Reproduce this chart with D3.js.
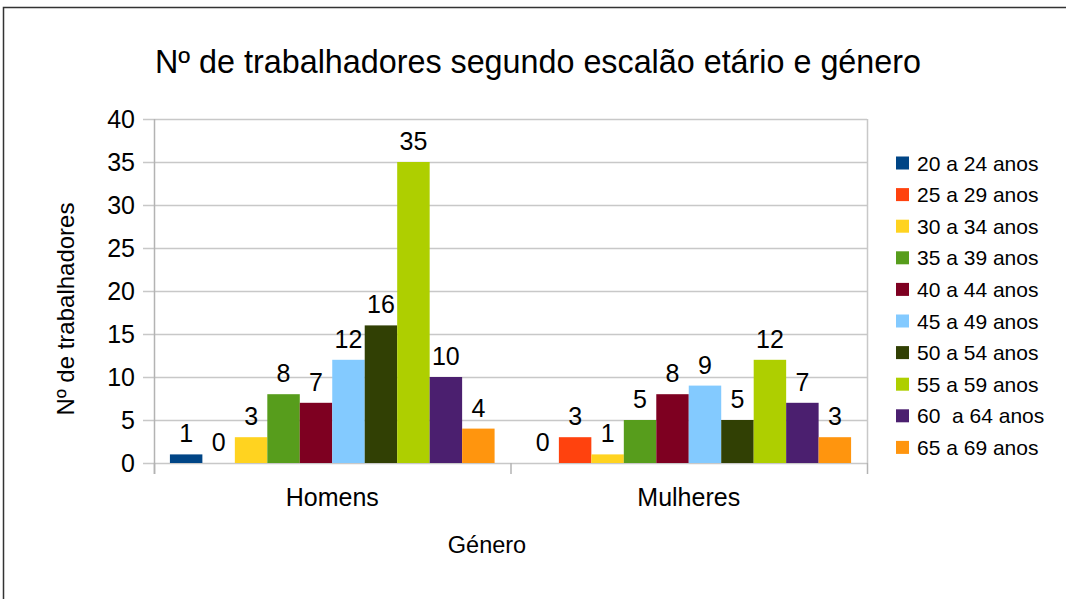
<!DOCTYPE html>
<html>
<head>
<meta charset="utf-8">
<script src="https://cdnjs.cloudflare.com/ajax/libs/d3/7.8.5/d3.min.js"></script>
<style>
  body { margin: 0; background: #fff; }
  text { font-family: "Liberation Sans", Arial, sans-serif; fill: #000; white-space: pre; }
</style>
</head>
<body>
<div id="chart"></div>
<script>
// data
var genders = ["Homens", "Mulheres"];
var ageGroups = ["20 a 24 anos", "25 a 29 anos", "30 a 34 anos", "35 a 39 anos", "40 a 44 anos",
                 "45 a 49 anos", "50 a 54 anos", "55 a 59 anos", "60  a 64 anos", "65 a 69 anos"];
var homens = [1, 0, 3, 8, 7, 12, 16, 35, 10, 4];
var mulheres = [0, 3, 1, 5, 8, 9, 5, 12, 7, 3];
var yTicks = [0, 5, 10, 15, 20, 25, 30, 35, 40];
var colors = ["#004586", "#ff420e", "#ffd320", "#579d1c", "#7e0021",
              "#83caff", "#314004", "#aecf00", "#4b1f6f", "#ff950e"];

var width = 1066, height = 599;
var margin = {top: 119, right: 199, bottom: 136, left: 154};

var svg = d3.select("#chart").append("svg")
  .attr("width", width)
  .attr("height", height);

// chart border
svg.append("path")
  .attr("d", "M3.5,599 L3.5,7.5 L1066,7.5")
  .attr("fill", "none")
  .attr("stroke", "#333")
  .attr("stroke-width", 1.5);

svg.append("text")
  .attr("x", 538)
  .attr("y", 73)
  .attr("text-anchor", "middle")
  .style("font-size", "32.3px")
  .text("Nº de trabalhadores segundo escalão etário e género");

var x0 = d3.scaleBand()
  .domain(genders)
  .range([margin.left, width - margin.right])
  .paddingInner(0)
  .paddingOuter(0);

var x1 = d3.scaleBand()
  .domain(d3.range(ageGroups.length))
  .range([0, x0.bandwidth()])
  .paddingOuter(0.49);

var y = d3.scaleLinear()
  .domain([0, 40])
  .range([height - margin.bottom, margin.top]);

var color = d3.scaleOrdinal().domain(d3.range(ageGroups.length)).range(colors);

// gridlines
svg.append("g")
  .selectAll("line")
  .data(yTicks)
  .enter().append("line")
  .attr("x1", margin.left - 11)
  .attr("x2", width - margin.right)
  .attr("y1", function(d) { return Math.round(y(d)) + 0.5; })
  .attr("y2", function(d) { return Math.round(y(d)) + 0.5; })
  .attr("stroke", "#c8c8c8")
  .attr("stroke-width", 1.5);

// y tick labels
svg.append("g")
  .selectAll("text")
  .data(yTicks)
  .enter().append("text")
  .attr("x", 135)
  .attr("y", function(d) { return y(d) + 9; })
  .attr("text-anchor", "end")
  .style("font-size", "25px")
  .text(function(d) { return d; });

// y axis line
svg.append("line")
  .attr("x1", margin.left + 0.5).attr("x2", margin.left + 0.5)
  .attr("y1", y(40)).attr("y2", y(0) + 11)
  .attr("stroke", "#b3b3b3").attr("stroke-width", 1.5);

// category tick marks
var bounds = [margin.left, margin.left + x0.bandwidth(), width - margin.right];
svg.append("g")
  .selectAll("line")
  .data(bounds)
  .enter().append("line")
  .attr("x1", function(d) { return d + 0.5; })
  .attr("x2", function(d) { return d + 0.5; })
  .attr("y1", y(0))
  .attr("y2", y(0) + 11)
  .attr("stroke", "#b3b3b3").attr("stroke-width", 1.5);

svg.append("line")
  .attr("x1", width - margin.right + 0.5).attr("x2", width - margin.right + 0.5)
  .attr("y1", y(40)).attr("y2", y(0))
  .attr("stroke", "#c8c8c8").attr("stroke-width", 1.5);

// bars
var series = [homens, mulheres];
var groups = svg.selectAll("g.group")
  .data(genders)
  .enter().append("g")
  .attr("class", "group")
  .attr("transform", function(d) { return "translate(" + x0(d) + ",0)"; });

groups.selectAll("rect")
  .data(function(d, i) { return series[i].map(function(v, j) { return {i: j, v: v}; }); })
  .enter().append("rect")
  .attr("x", function(d) { return x1(d.i); })
  .attr("width", x1.bandwidth())
  .attr("y", function(d) { return y(d.v); })
  .attr("height", function(d) { return y(0) - y(d.v); })
  .style("fill", function(d) { return color(d.i); });

groups.selectAll("text.val")
  .data(function(d, i) { return series[i].map(function(v, j) { return {i: j, v: v}; }); })
  .enter().append("text")
  .attr("class", "val")
  .attr("x", function(d) { return x1(d.i) + x1.bandwidth() / 2; })
  .attr("y", function(d) { return y(d.v) - 12; })
  .attr("text-anchor", "middle")
  .style("font-size", "25px")
  .text(function(d) { return d.v; });

// category labels
svg.append("g")
  .selectAll("text")
  .data(genders)
  .enter().append("text")
  .attr("x", function(d) { return x0(d) + x0.bandwidth() / 2; })
  .attr("y", 506)
  .attr("text-anchor", "middle")
  .style("font-size", "25px")
  .text(function(d) { return d; });

// axis titles
svg.append("text")
  .attr("x", 487)
  .attr("y", 553)
  .attr("text-anchor", "middle")
  .style("font-size", "23.5px")
  .text("Género");

svg.append("text")
  .attr("transform", "translate(74,309) rotate(-90)")
  .attr("text-anchor", "middle")
  .style("font-size", "24px")
  .text("Nº de trabalhadores");

// legend
var legend = svg.append("g")
  .selectAll("g")
  .data(ageGroups)
  .enter().append("g")
  .attr("transform", function(d, i) { return "translate(896," + (163 + i * 31.6) + ")"; });

legend.append("rect")
  .attr("x", 0).attr("y", -6.5)
  .attr("width", 13).attr("height", 13)
  .style("fill", function(d, i) { return color(i); });

legend.append("text")
  .attr("x", 21)
  .attr("y", 7.5)
  .style("font-size", "21px")
  .text(function(d) { return d; });
</script>
</body>
</html>
